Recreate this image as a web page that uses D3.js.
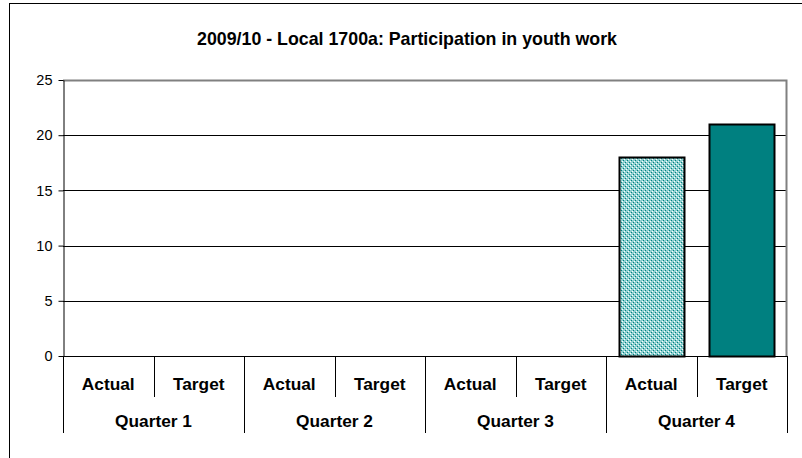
<!DOCTYPE html>
<html>
<head>
<meta charset="utf-8">
<script src="https://cdn.jsdelivr.net/npm/d3@7"></script>
<style>
  body { margin: 0; background: #fff; }
  text { font-family: Arial, "Liberation Sans", sans-serif; fill: #000; }
</style>
</head>
<body>
<svg id="chart" width="802" height="458"></svg>
<script>
const title = "2009/10 - Local 1700a: Participation in youth work";
const quarters = ["Quarter 1", "Quarter 2", "Quarter 3", "Quarter 4"];
const series = ["Actual", "Target"];
const actual = [null, null, null, 18];
const target = [null, null, null, 21];
const yTicks = [0, 5, 10, 15, 20, 25];

const TEAL = "#008080";

const svg = d3.select("#chart");
const margin = { left: 63, top: 80 };
const width = 802, height = 458;
const plotW = 787 - margin.left;
const plotH = 356 - margin.top;

// pattern for the Actual bars
const defs = svg.append("defs");
const pat = defs.append("pattern")
  .attr("id", "checks")
  .attr("width", 4).attr("height", 4)
  .attr("patternUnits", "userSpaceOnUse");
pat.append("rect").attr("width", 4).attr("height", 4).attr("fill", "#8fd0d0");
pat.append("rect").attr("x", 0).attr("y", 0).attr("width", 1).attr("height", 1).attr("fill", TEAL);
pat.append("rect").attr("x", 2).attr("y", 2).attr("width", 1).attr("height", 1).attr("fill", TEAL);
pat.append("rect").attr("x", 1).attr("y", 3).attr("width", 1).attr("height", 1).attr("fill", "#fff");
pat.append("rect").attr("x", 3).attr("y", 1).attr("width", 1).attr("height", 1).attr("fill", "#fff");

// outer chart border (runs past the right and bottom edges)
svg.append("rect")
  .attr("x", 9.5).attr("y", 3.5)
  .attr("width", width).attr("height", height)
  .attr("fill", "none").attr("stroke", "#000");

svg.append("text")
  .attr("x", 407)
  .attr("y", 45)
  .attr("text-anchor", "middle")
  .attr("font-size", "17.8px")
  .attr("font-weight", "bold")
  .text(title);

const g = svg.append("g").attr("transform", `translate(${margin.left},${margin.top})`);

const rows = [];
quarters.forEach((q, i) => {
  rows.push({ quarter: q, series: "Actual", value: actual[i] });
  rows.push({ quarter: q, series: "Target", value: target[i] });
});

const x = d3.scaleBand()
  .domain(rows.map((d, i) => i))
  .range([0, plotW])
  .paddingInner(0.28)
  .paddingOuter(0.14);

const y = d3.scaleLinear().domain([0, 25]).range([plotH, 0]);

// gridlines
g.append("g")
  .selectAll("line")
  .data(yTicks.filter(t => t > 0 && t < 25))
  .join("line")
  .attr("x1", 0).attr("x2", plotW)
  .attr("y1", d => Math.round(y(d)) + 0.5).attr("y2", d => Math.round(y(d)) + 0.5)
  .attr("stroke", "#000");

// plot area border (top & right, gray)
g.append("path")
  .attr("d", `M0,0.5H${plotW - 0.5}V${plotH}`)
  .attr("fill", "none")
  .attr("stroke", "#808080")
  .attr("stroke-width", 2);

// bars
g.append("g")
  .selectAll("rect")
  .data(rows.filter(d => d.value != null))
  .join("rect")
  .attr("x", d => Math.round(x(rows.indexOf(d))) + 0.5)
  .attr("y", d => Math.round(y(d.value)) + 0.5)
  .attr("width", d => Math.round(x.bandwidth()))
  .attr("height", d => Math.round(plotH - y(d.value)))
  .attr("fill", d => d.series === "Actual" ? "url(#checks)" : TEAL)
  .attr("stroke", "#000")
  .attr("stroke-width", 2);

// y axis
const yAxis = g.append("g")
  .attr("transform", "translate(0.5,0)")
  .call(d3.axisLeft(y).tickValues(yTicks).tickSize(5).tickPadding(6).tickSizeOuter(0));
yAxis.select(".domain").attr("stroke", "#000");
yAxis.selectAll(".tick line").attr("stroke", "#000");
yAxis.selectAll(".tick text")
  .attr("font-size", "14.5px")
  .attr("font-family", "Arial, 'Liberation Sans', sans-serif")
  .attr("fill", "#000");

// category axis
const step = plotW / rows.length;
g.append("line")
  .attr("x1", 0).attr("x2", plotW)
  .attr("y1", plotH + 0.5).attr("y2", plotH + 0.5)
  .attr("stroke", "#000");

g.append("line")
  .attr("x1", 0.5).attr("x2", 0.5)
  .attr("y1", plotH).attr("y2", plotH + 77)
  .attr("stroke", "#000");

g.append("g")
  .selectAll("line")
  .data(rows)
  .join("line")
  .attr("x1", (d, i) => Math.round((i + 1) * step) + 0.5)
  .attr("x2", (d, i) => Math.round((i + 1) * step) + 0.5)
  .attr("y1", plotH)
  .attr("y2", (d, i) => (i % 2 === 1 ? plotH + 77 : plotH + 41))
  .attr("stroke", "#000");

g.append("g")
  .selectAll("text")
  .data(rows)
  .join("text")
  .attr("x", (d, i) => (i + 0.5) * step)
  .attr("y", plotH + 34)
  .attr("text-anchor", "middle")
  .attr("font-size", "17.3px")
  .attr("font-weight", "bold")
  .text(d => d.series);

g.append("g")
  .selectAll("text")
  .data(quarters)
  .join("text")
  .attr("x", (d, i) => (i + 0.5) * step * 2)
  .attr("y", plotH + 71)
  .attr("text-anchor", "middle")
  .attr("font-size", "17.3px")
  .attr("font-weight", "bold")
  .text(d => d);
</script>
</body>
</html>
